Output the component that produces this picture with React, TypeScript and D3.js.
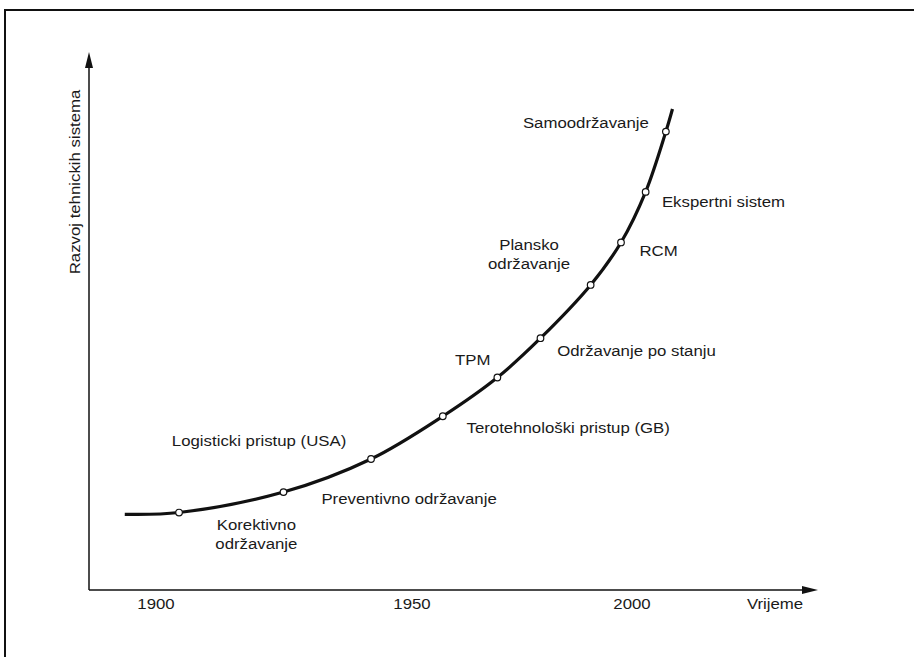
import React from "react";
import * as d3 from "d3";

// ---- data ----
const tickYears = [1900, 1950, 2000];
const tickLabels = ["1900", "1950", "2000"];

// curve through the milestones (year, level of development)
const curveYears = [1893.9, 1904.5, 1924.9, 1942.0, 1957.0, 1969.4, 1979.2, 1990.6, 1997.5, 2003.1, 2007.7, 2009.2];
const curveLevels = [14.07, 14.4, 18.2, 24.35, 32.3, 39.5, 46.8, 56.7, 64.6, 74.0, 85.2, 89.4];
// which curve points carry a marker
const markerIdx = [1, 2, 3, 4, 5, 6, 7, 8, 9, 10];

// annotations: text lines, anchor in data space, alignment
const labelLines = [
  ["Samoodržavanje"],
  ["Ekspertni sistem"],
  ["RCM"],
  ["Plansko", "održavanje"],
  ["TPM"],
  ["Održavanje po stanju"],
  ["Terotehnološki pristup (GB)"],
  ["Logisticki pristup (USA)"],
  ["Preventivno održavanje"],
  ["Korektivno", "održavanje"],
];
const labelYears = [1975.2, 2006.8, 2001.7, 1976.6, 1959.8, 1983.0, 1962.4, 1903.1, 1932.3, 1919.6];
const labelLevels = [85.9, 71.2, 62.1, 63.2, 41.9, 43.5, 29.2, 26.8, 16.0, 11.15];
const labelAlign = ["start", "start", "start", "middle", "start", "start", "start", "start", "start", "middle"];

const xAxisTitle = "Vrijeme";
const yAxisTitle = "Razvoj tehnickih sistema";

// ---- layout ----
const W = 914;
const H = 657;
const axisX0 = 89;
const axisY0 = 590;
const axisXEnd = 818;
const axisYEnd = 52;
const FONT = "'Liberation Sans', Arial, Helvetica, sans-serif";
const FS = 15;
const SX = 1.12;
const TXT = "#1a1a1a";

export default function App() {
  const x = d3.scaleLinear().domain([1900, 1950, 2000]).range([156, 412, 632]);
  const y = d3.scaleLinear().domain([0, 100]).range([axisY0, axisY0 - 538]);

  const pts: [number, number][] = curveYears.map((yr, i) => [x(yr), y(curveLevels[i])]);
  const line = d3.line().curve(d3.curveCatmullRom.alpha(0.5));
  const d = line(pts) || "";

  const arrowLen = 16;
  const arrowHalf = 4;

  return (
    <svg
      width={W}
      height={H}
      style={{ position: "absolute", left: 0, top: 0, background: "#fff" }}
      fontFamily={FONT}
    >
      <rect x={0} y={0} width={W} height={H} fill="#fff" />
      {/* frame */}
      <path d={`M${W},10 H5 V${H}`} fill="none" stroke="#111" strokeWidth={2} />

      {/* axes */}
      <line x1={axisX0} y1={axisY0} x2={axisX0} y2={axisYEnd + arrowLen - 2} stroke="#111" strokeWidth={1.5} />
      <path
        d={`M${axisX0},${axisYEnd} L${axisX0 - arrowHalf},${axisYEnd + arrowLen} L${axisX0 + arrowHalf},${axisYEnd + arrowLen} Z`}
        fill="#111"
      />
      <line x1={axisX0} y1={axisY0} x2={axisXEnd - arrowLen + 2} y2={axisY0} stroke="#111" strokeWidth={1.5} />
      <path
        d={`M${axisXEnd},${axisY0} L${axisXEnd - arrowLen},${axisY0 - arrowHalf} L${axisXEnd - arrowLen},${axisY0 + arrowHalf} Z`}
        fill="#111"
      />

      {/* tick labels */}
      {tickYears.map((t, i) => (
        <text
          key={t}
          transform={`translate(${x(t)},${axisY0 + 19}) scale(${SX},1)`}
          textAnchor="middle"
          fontSize={FS}
          fill={TXT}
        >
          {tickLabels[i]}
        </text>
      ))}
      <text transform={`translate(775,${axisY0 + 19}) scale(${SX},1)`} textAnchor="middle" fontSize={FS} fill={TXT}>
        {xAxisTitle}
      </text>
      <text
        transform={`translate(80,182) rotate(-90) scale(${SX},1)`}
        textAnchor="middle"
        fontSize={FS}
        fill={TXT}
      >
        {yAxisTitle}
      </text>

      {/* curve */}
      <path d={d} fill="none" stroke="#111" strokeWidth={3.2} strokeLinecap="butt" />
      {markerIdx.map((i) => (
        <circle key={i} cx={pts[i][0]} cy={pts[i][1]} r={3.3} fill="#fff" stroke="#111" strokeWidth={1.2} />
      ))}

      {/* annotations */}
      {labelLines.map((lines, i) => (
        <text
          key={i}
          transform={`translate(${x(labelYears[i])},${y(labelLevels[i])}) scale(${SX},1)`}
          textAnchor={labelAlign[i]}
          fontSize={FS}
          fill={TXT}
        >
          {lines.map((ln, j) => (
            <tspan key={j} x={0} dy={j === 0 ? 0 : 19}>
              {ln}
            </tspan>
          ))}
        </text>
      ))}
    </svg>
  );
}
